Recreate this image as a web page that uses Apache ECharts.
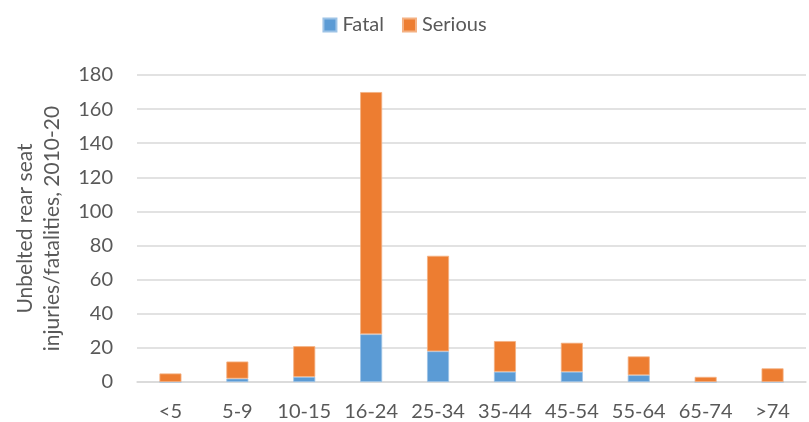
<!DOCTYPE html>
<html>
<head>
<meta charset="utf-8">
<script src="https://cdn.jsdelivr.net/npm/echarts@6/dist/echarts.min.js"></script>
<style>
  html, body { margin: 0; padding: 0; background: #fff; }
  #chart { width: 809px; height: 422px; }
</style>
</head>
<body>
<div id="chart"></div>
<script>
// Age bands of unbelted rear-seat occupants
const ageBands = ['<5', '5-9', '10-15', '16-24', '25-34', '35-44', '45-54', '55-64', '65-74', '>74'];
// Casualty counts, 2010-20
const fatal   = [0, 2, 3, 28, 18, 6, 6, 4, 0, 0];
const totals  = [5, 12, 21, 170, 74, 24, 23, 15, 3, 8];
const serious = totals.map((t, i) => t - fatal[i]);

const yTicks = { min: 0, max: 180, interval: 20 };

const font = 'Lato, "Liberation Sans", sans-serif';
const textColor = '#595959';

const chart = echarts.init(document.getElementById('chart'));
chart.setOption({
  animation: false,
  textStyle: { fontFamily: font },
  legend: {
    top: 10,
    left: 'center',
    itemWidth: 13,
    itemHeight: 13,
    itemGap: 18,
    icon: 'rect',
    textStyle: { fontSize: 20, color: textColor, fontFamily: font, padding: [0, 0, 0, 1] },
    data: ['Fatal', 'Serious']
  },
  grid: { left: 137, right: 3, top: 75, bottom: 40 },
  xAxis: {
    type: 'category',
    data: ageBands,
    axisLine: { lineStyle: { color: '#D9D9D9', width: 1.5 } },
    axisTick: { show: false },
    axisLabel: { interval: 0, color: textColor, fontSize: 20, margin: 20, fontFamily: font }
  },
  yAxis: {
    type: 'value',
    min: yTicks.min,
    max: yTicks.max,
    interval: yTicks.interval,
    name: 'Unbelted rear seat\ninjuries/fatalities, 2010-20',
    nameLocation: 'middle',
    nameGap: 71,
    nameTextStyle: { fontSize: 21, color: textColor, lineHeight: 27, fontFamily: font },
    axisLine: { show: false },
    axisTick: { show: false },
    axisLabel: { color: textColor, fontSize: 20, margin: 24, fontFamily: font },
    splitLine: { lineStyle: { color: '#D9D9D9', width: 1.5 } }
  },
  series: [
    {
      name: 'Fatal',
      type: 'bar',
      stack: 'total',
      barWidth: 22,
      data: fatal,
      itemStyle: { color: '#5B9BD5', borderColor: '#9DC3E6', borderWidth: 0.8 }
    },
    {
      name: 'Serious',
      type: 'bar',
      stack: 'total',
      barWidth: 22,
      data: serious,
      itemStyle: { color: '#ED7D31', borderColor: '#F4B183', borderWidth: 0.8 }
    }
  ]
});
</script>
</body>
</html>
